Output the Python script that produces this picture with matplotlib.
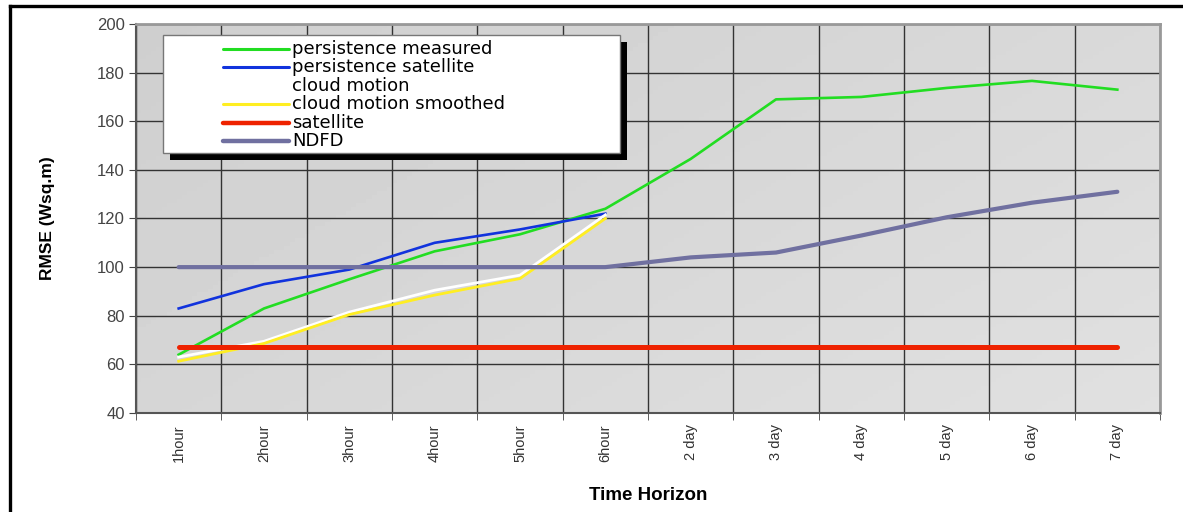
import numpy as np
import matplotlib
matplotlib.use("Agg")
import matplotlib.pyplot as plt
from matplotlib.lines import Line2D
from matplotlib.patches import Rectangle

# data
horizons = ['1hour', '2hour', '3hour', '4hour', '5hour', '6hour',
            '2 day', '3 day', '4 day', '5 day', '6 day', '7 day']
persistence_measured = [64, 83, 95, 106.5, 113.5, 124, 144.5, 169, 170, 173.7, 176.6, 173]
persistence_satellite = [83, 93, 99, 110, 115.5, 122]
cloud_motion = [63, 69.5, 81.5, 90.5, 96.7, 121.5]
cloud_motion_smoothed = [61.3, 68.6, 80.5, 88.5, 95.3, 120]
satellite = [67] * 12
ndfd = [100, 100, 100, 100, 100, 100, 104, 106, 113, 120.5, 126.5, 131]

W, H = 1183, 512
fig = plt.figure(figsize=(W / 100, H / 100), dpi=100)
plt.rcParams['font.family'] = ['Liberation Sans', 'DejaVu Sans']


def px(x, y):
    return x / W, 1 - y / H


ax = fig.add_axes([136 / W, 1 - 413 / H, (1160 - 136) / W, (413 - 24) / H])

# gray background with a slight gradient
gx, gy = np.meshgrid(np.linspace(0, 1, 200), np.linspace(0, 1, 100))
grad = 0.81 + 0.07 * (gx * 0.6 + gy * 0.4)
ax.imshow(grad, extent=[0, 1, 0, 1], transform=ax.transAxes, cmap='gray',
          vmin=0, vmax=1, aspect='auto', zorder=0)

x = np.arange(len(horizons))
n6 = len(persistence_satellite)
ax.plot(x, persistence_measured, color='#22dd22', lw=1.9, zorder=3)
ax.plot(x[:n6], persistence_satellite, color='#1133dd', lw=1.9, zorder=3)
ax.plot(x[:n6], cloud_motion, color='white', lw=2, zorder=3)
ax.plot(x[:n6], cloud_motion_smoothed, color='#ffee22', lw=2, zorder=3)
ax.plot(x, satellite, color='#ee2200', lw=3.6, solid_capstyle='round', zorder=4)
ax.plot(x, ndfd, color='#7070a0', lw=3, solid_capstyle='round', zorder=4)

ax.set_xlim(-0.5, len(horizons) - 0.5)
ax.set_ylim(40, 200)
ax.set_yticks(range(40, 201, 20))
ax.set_xticks(x)
ax.set_xticklabels(horizons, rotation=90, fontsize=10.5, color='#333333')
ax.set_xticks(np.arange(-0.5, len(horizons), 1), minor=True)
ax.tick_params(axis='x', which='major', length=0, pad=8)
ax.tick_params(axis='x', which='minor', length=5, color='#444444')
ax.tick_params(axis='y', length=5, color='#444444', labelsize=12, labelcolor='#444444', pad=3)

ax.grid(True, axis='y', color='#333333', lw=1, zorder=1)
ax.grid(True, axis='x', which='minor', color='#333333', lw=1, zorder=1)
ax.set_axisbelow(True)
for s in ['top', 'right']:
    ax.spines[s].set_color('#999999')
    ax.spines[s].set_linewidth(2)
for s in ['left', 'bottom']:
    ax.spines[s].set_color('#555555')
    ax.spines[s].set_linewidth(1.5)

ax.set_xlabel('Time Horizon', fontsize=13.5, fontweight='bold', labelpad=18)
ax.set_ylabel('RMSE (Wsq.m)', fontsize=12.5, fontweight='bold', labelpad=30)

# legend box drawn by hand with a black drop shadow
x0, y0 = px(163, 153)
x1, y1 = px(620, 35)
sx, sy = 7 / W, 7 / H
fig.add_artist(Rectangle((x0 + sx, y0 - sy), x1 - x0, y1 - y0, transform=fig.transFigure,
                         facecolor='black', edgecolor='none', zorder=10))
fig.add_artist(Rectangle((x0, y0), x1 - x0, y1 - y0, transform=fig.transFigure,
                         facecolor='white', edgecolor='#777777', lw=1, zorder=11))
entries = [('persistence measured', '#22dd22', 2.2),
           ('persistence satellite', '#1133dd', 2.2),
           ('cloud motion', 'white', 2.2),
           ('cloud motion smoothed', '#ffee22', 2.2),
           ('satellite', '#ee2200', 3.2),
           ('NDFD', '#7070a0', 3.2)]
for i, (lab, col, lw) in enumerate(entries):
    yy = 49 + i * 18.4
    lx0, ly = px(223, yy)
    lx1, _ = px(289, yy)
    fig.add_artist(Line2D([lx0, lx1], [ly, ly], transform=fig.transFigure,
                          color=col, lw=lw, solid_capstyle='round', zorder=12))
    tx, _ = px(292, yy)
    fig.text(tx, ly, lab, fontsize=13, family='DejaVu Sans', va='center', ha='left',
             color='black', zorder=13)

# outer frame lines (left and top)
fig.add_artist(Line2D([10 / W, 10 / W], [0, 1 - 6 / H], transform=fig.transFigure,
                      color='black', lw=2.4))
fig.add_artist(Line2D([10 / W, 1], [1 - 6 / H, 1 - 6 / H], transform=fig.transFigure,
                      color='black', lw=2.4))

fig.savefig('out.png', dpi=100)
